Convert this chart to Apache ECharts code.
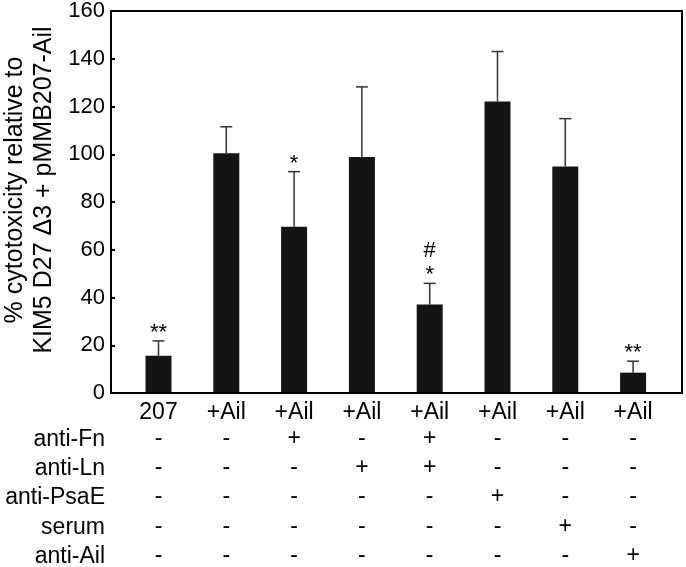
<!DOCTYPE html>
<html>
<head>
<meta charset="utf-8">
<script src="https://cdn.jsdelivr.net/npm/echarts@6/dist/echarts.min.js"></script>
<style>html,body{margin:0;padding:0;background:#fff}#c{width:686px;height:567px}</style>
</head>
<body>
<div id="c"></div>
<script>
const categories = ['207', '+Ail', '+Ail', '+Ail', '+Ail', '+Ail', '+Ail', '+Ail'];
const values = [15.2, 100.0, 69.2, 98.4, 36.6, 121.7, 94.5, 8.1];
const errors = [6.2, 11.1, 23.1, 29.4, 8.9, 20.9, 20.0, 4.8];
const starMarks = ['**', '', '*', '', '*', '', '', '**'];
const hashMarks = ['', '', '', '', '#', '', '', ''];
const rowNames = ['anti-Fn', 'anti-Ln', 'anti-PsaE', 'serum', 'anti-Ail'];
const rowAntiFn   = ['-', '-', '+', '-', '+', '-', '-', '-'];
const rowAntiLn   = ['-', '-', '-', '+', '+', '-', '-', '-'];
const rowAntiPsaE = ['-', '-', '-', '-', '-', '+', '-', '-'];
const rowSerum    = ['-', '-', '-', '-', '-', '-', '+', '-'];
const rowAntiAil  = ['-', '-', '-', '-', '-', '-', '-', '+'];
const yTitle = '% cytotoxicity relative to\nKIM5 D27 Δ3 + pMMB207-Ail';

const FONT = 'Liberation Sans, Arial, sans-serif';
const rows = [rowAntiFn, rowAntiLn, rowAntiPsaE, rowSerum, rowAntiAil];
const rowOffsets = [26, 55, 84, 114, 143];

const xAxes = [{
  type: 'category', gridIndex: 0, data: categories, position: 'bottom',
  axisLine: {show: false}, axisTick: {show: false},
  axisLabel: {fontSize: 23, color: '#000', fontFamily: FONT, margin: 9, interval: 0}
}];
rows.forEach((r, i) => {
  xAxes.push({
    type: 'category', gridIndex: 0, data: r, position: 'bottom', offset: rowOffsets[i],
    axisLine: {show: false}, axisTick: {show: false},
    axisLabel: {fontSize: 23, color: '#000', fontFamily: FONT, margin: 9, interval: 0}
  });
});
xAxes.push({type: 'value', gridIndex: 1, show: false, min: 0, max: 1});

const chart = echarts.init(document.getElementById('c'), null, {renderer: 'canvas'});
chart.setOption({
  animation: false,
  backgroundColor: '#fff',
  grid: [
    {left: 124.6, right: 19, top: 10, bottom: 174},
    {left: 111, right: 4, top: 10, bottom: 174, show: true, borderColor: '#000', borderWidth: 2, backgroundColor: 'transparent'}
  ],
  xAxis: xAxes,
  yAxis: [
    {type: 'value', gridIndex: 0, min: 0, max: 160, interval: 20, show: false},
    {type: 'value', gridIndex: 1, min: 0, max: 160, interval: 20,
      axisLine: {show: true, lineStyle: {color: '#000', width: 2}},
      axisTick: {show: true, inside: true, length: 4, lineStyle: {color: '#000', width: 2}},
      splitLine: {show: false},
      axisLabel: {fontSize: 22, color: '#000', fontFamily: FONT, margin: 6}
    }
  ],
  graphic: [
    {type: 'text', x: 30, y: 190, rotation: Math.PI / 2,
      style: {text: yTitle, font: '25px ' + FONT, fill: '#000', align: 'center', verticalAlign: 'middle', lineHeight: 29}}
  ].concat(rowNames.map((n, i) => ({
    type: 'text', x: 105, y: 414 + rowOffsets[i],
    style: {text: n, font: '23px ' + FONT, fill: '#000', align: 'right', verticalAlign: 'middle'}
  }))),
  series: [
    {type: 'bar', xAxisIndex: 0, yAxisIndex: 0, data: values, barWidth: 26,
      itemStyle: {color: '#141414'}},
    {type: 'custom', xAxisIndex: 0, yAxisIndex: 0,
      data: values.map((v, i) => [i, v, v + errors[i]]),
      renderItem: function (params, api) {
        const i = api.value(0);
        const base = api.coord([i, api.value(1)]);
        const top = api.coord([i, api.value(2)]);
        const x = base[0];
        const children = [
          {type: 'line', shape: {x1: x, y1: base[1], x2: x, y2: top[1]}, style: {stroke: '#333', lineWidth: 1.5}},
          {type: 'line', shape: {x1: x - 6, y1: top[1], x2: x + 6, y2: top[1]}, style: {stroke: '#333', lineWidth: 1.5}}
        ];
        if (starMarks[i]) {
          children.push({type: 'text', x: x, y: top[1] - 8,
            style: {text: starMarks[i], font: '22px ' + FONT, fill: '#000', align: 'center', verticalAlign: 'middle'}});
        }
        if (hashMarks[i]) {
          children.push({type: 'text', x: x, y: top[1] - 32,
            style: {text: hashMarks[i], font: '22px ' + FONT, fill: '#000', align: 'center', verticalAlign: 'middle'}});
        }
        return {type: 'group', children: children};
      },
      z: 3
    }
  ]
});
</script>
</body>
</html>
